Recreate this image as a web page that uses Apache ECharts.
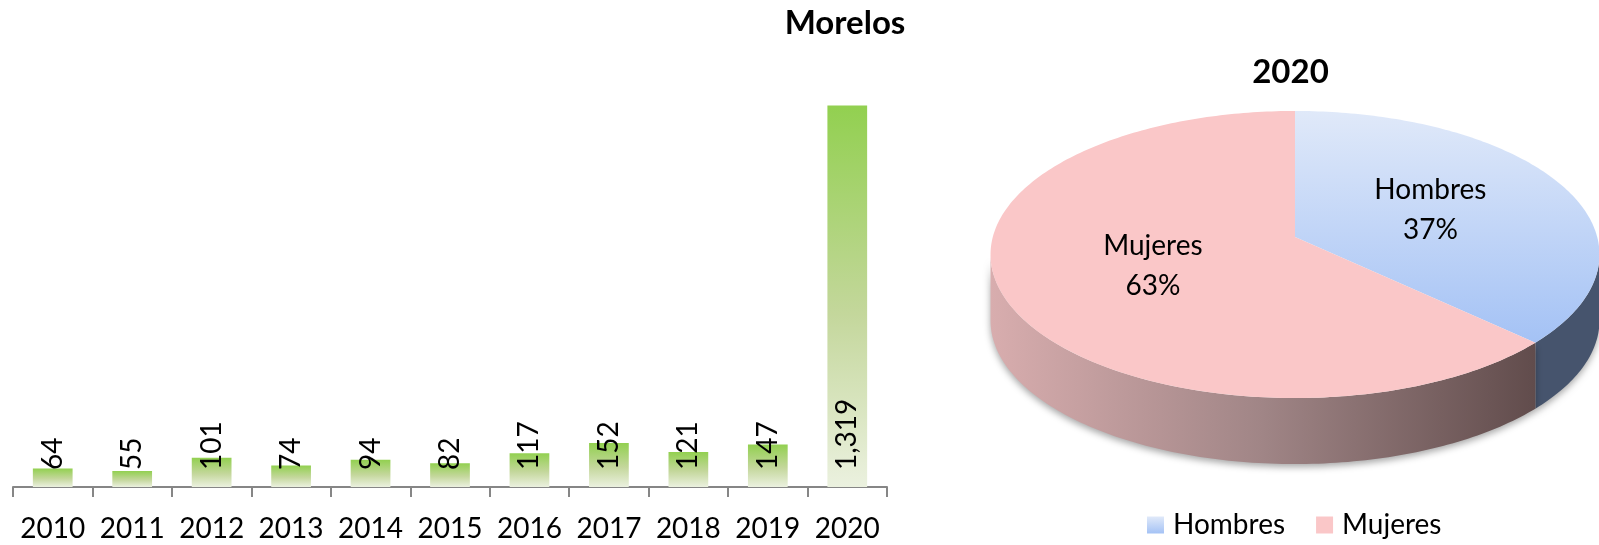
<!DOCTYPE html>
<html>
<head>
<meta charset="utf-8">
<script src="https://cdn.jsdelivr.net/npm/echarts@6/dist/echarts.min.js"></script>
<style>
  html, body { margin: 0; padding: 0; background: #ffffff; }
  #chart { width: 1599px; height: 545px; }
</style>
</head>
<body>
<div id="chart"></div>
<script>
// Yearly totals for Morelos
const years = ['2010', '2011', '2012', '2013', '2014', '2015', '2016', '2017', '2018', '2019', '2020'];
const yearTotals = [64, 55, 101, 74, 94, 82, 117, 152, 121, 147, 1319];

// 2020 split by sex (percent)
const sexNames = ['Hombres', 'Mujeres'];
const sexShares = [37, 63];

const FONT = 'Lato';
const TEXT_SIZE = 28;

// Tilted pie geometry: a perspective view of a disc, angles clockwise from 12 o'clock
const PIE = { cx: 1295, a: 112.5, b: 237, c: -0.122, d: 302.2, depth: 66 };
function proj(deg, r) {
  const t = deg * Math.PI / 180;
  const X = r * Math.sin(t), Y = -r * Math.cos(t);
  const w = 1 + PIE.c * Y;
  return [PIE.cx + PIE.d * X / w, (PIE.a * Y + PIE.b) / w];
}
// silhouette angles of the front wall
const RIM_R = Math.acos(PIE.c) * 180 / Math.PI;
const RIM_L = 360 - RIM_R;

const topFill = [
  new echarts.graphic.LinearGradient(0, 0, 0, 1, [
    { offset: 0, color: '#e0e9f9' },
    { offset: 1, color: '#a4c2f5' }
  ]),
  '#fac7c8'
];
const sideFill = [
  '#46546d',
  new echarts.graphic.LinearGradient(0, 0, 1, 0, [
    { offset: 0, color: '#d8adae' },
    { offset: 0.5, color: '#a08586' },
    { offset: 1, color: '#614c4c' }
  ])
];

function sliceSeries(idx) {
  return {
    type: 'custom',
    name: sexNames[idx],
    coordinateSystem: 'none',
    data: [sexShares[idx]],
    itemStyle: { color: topFill[idx] },
    silent: true,
    renderItem: function (params, api) {
      const total = sexShares.reduce((s, v) => s + v, 0);
      const before = sexShares.slice(0, idx).reduce((s, v) => s + v, 0);
      const val = api.value(0);
      const a0 = before / total * 360;
      const a1 = (before + val) / total * 360;
      const children = [];

      // front wall of the slice
      const s0 = Math.max(a0, RIM_R), s1 = Math.min(a1, RIM_L);
      if (s1 > s0) {
        const upper = [], lower = [];
        const n = Math.max(2, Math.ceil(s1 - s0));
        for (let i = 0; i <= n; i++) {
          const p = proj(s0 + (s1 - s0) * i / n, 1);
          upper.push(p);
          lower.push([p[0], p[1] + PIE.depth]);
        }
        children.push({
          type: 'polygon',
          z2: 1,
          shape: { points: upper.concat(lower.reverse()) },
          style: {
            fill: sideFill[idx],
            shadowBlur: 7,
            shadowOffsetY: 3,
            shadowColor: 'rgba(0,0,0,0.35)'
          }
        });
      }

      // top face
      const pts = [proj(0, 0)];
      const m = Math.max(2, Math.ceil(a1 - a0));
      for (let i = 0; i <= m; i++) pts.push(proj(a0 + (a1 - a0) * i / m, 1));
      children.push({
        type: 'polygon',
        z2: 2,
        shape: { points: pts },
        style: { fill: topFill[idx] }
      });

      // category and percentage
      const lp = proj((a0 + a1) / 2, 0.5);
      children.push({
        type: 'text',
        z2: 3,
        x: lp[0],
        y: lp[1],
        style: {
          text: sexNames[idx] + '\n' + Math.round(val / total * 100) + '%',
          fontFamily: FONT,
          fontSize: TEXT_SIZE,
          lineHeight: 40,
          fill: '#000000',
          align: 'center',
          verticalAlign: 'middle'
        }
      });
      return { type: 'group', children: children };
    }
  };
}

const chart = echarts.init(document.getElementById('chart'), null, { renderer: 'canvas' });

chart.setOption({
  animation: false,
  backgroundColor: '#ffffff',
  graphic: [
    {
      type: 'text', x: 845, y: 23.5,
      style: { text: 'Morelos', fontFamily: FONT, fontWeight: 'bold', fontSize: 33,
               fill: '#000000', align: 'center', verticalAlign: 'middle' }
    },
    {
      type: 'text', x: 1290.5, y: 72.5,
      style: { text: '2020', fontFamily: FONT, fontWeight: 'bold', fontSize: 33,
               fill: '#000000', align: 'center', verticalAlign: 'middle' }
    }
  ],
  legend: {
    data: sexNames,
    left: 1147,
    top: 511,
    padding: 0,
    icon: 'rect',
    itemWidth: 17,
    itemHeight: 17,
    itemGap: 31,
    textStyle: { fontFamily: FONT, fontSize: TEXT_SIZE, color: '#000000', padding: [0, 0, 0, 4] }
  },
  grid: { left: 13, top: 82, width: 874, height: 405, containLabel: false },
  xAxis: {
    type: 'category',
    data: years,
    axisLine: { lineStyle: { color: '#868686', width: 2 } },
    axisTick: { show: true, length: 10, lineStyle: { color: '#868686', width: 2 } },
    axisLabel: { interval: 0, fontFamily: FONT, fontSize: TEXT_SIZE, color: '#000000', margin: 28 }
  },
  yAxis: { type: 'value', min: 0, max: 1400, show: false, splitLine: { show: false } },
  series: [
    {
      type: 'bar',
      name: 'Total',
      data: yearTotals,
      barWidth: '50%',
      itemStyle: {
        color: new echarts.graphic.LinearGradient(0, 0, 0, 1, [
          { offset: 0, color: '#92d050' },
          { offset: 0.55, color: '#c4d79c' },
          { offset: 1, color: '#ebf1df' }
        ])
      },
      label: {
        show: true,
        position: 'insideBottom',
        distance: 17,
        rotate: 90,
        align: 'left',
        verticalAlign: 'middle',
        fontFamily: FONT,
        fontSize: TEXT_SIZE,
        color: '#000000',
        formatter: p => p.value.toLocaleString('en-US')
      }
    },
    sliceSeries(0),
    sliceSeries(1)
  ]
});
</script>
</body>
</html>
